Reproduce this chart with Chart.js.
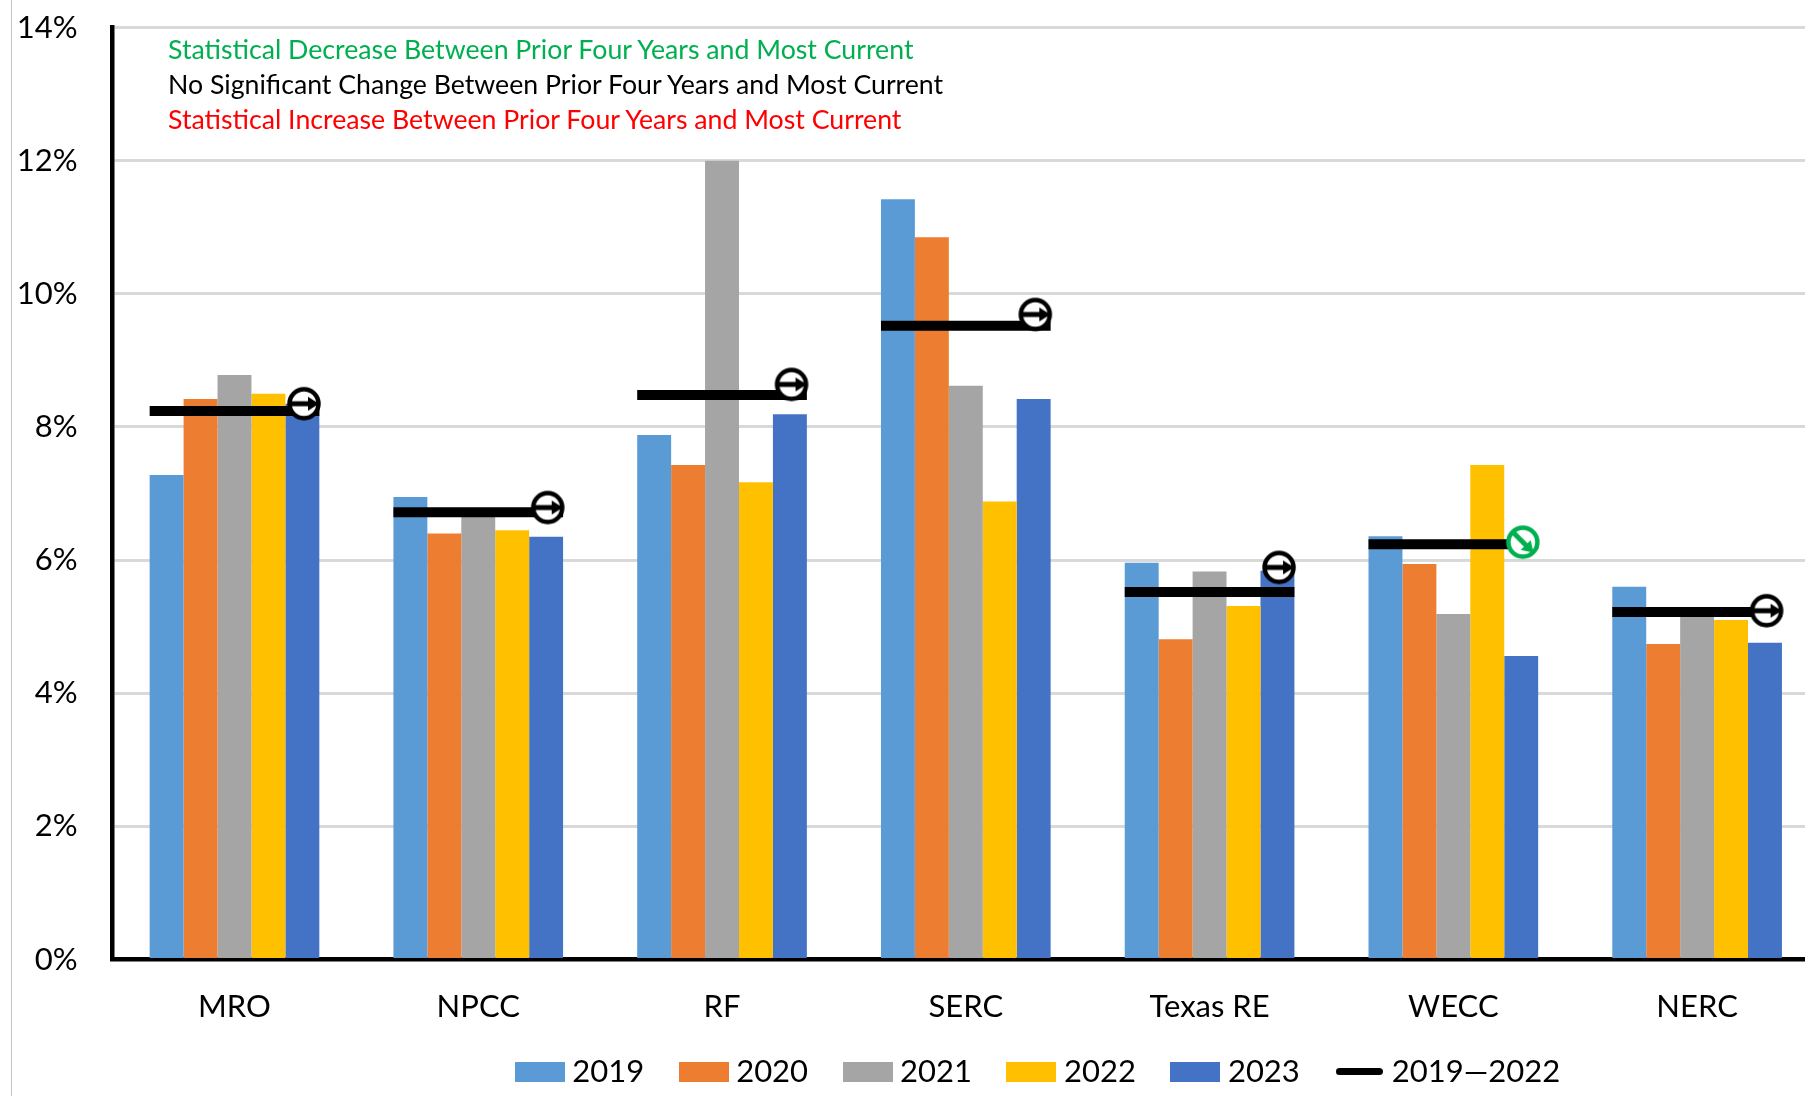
<!DOCTYPE html>
<html>
<head>
<meta charset="utf-8">
<title>Regional chart</title>
<script src="https://cdn.jsdelivr.net/npm/chart.js@4"></script>
<style>
html, body { margin: 0; padding: 0; width: 1805px; height: 1096px; overflow: hidden; background: #fff; }
#wrap { position: relative; width: 1805px; height: 1096px; overflow: hidden; }
#edge { position: absolute; left: 11px; top: 0; width: 1px; height: 1096px; background: #c4c4c4; }
canvas { position: absolute; left: 0; top: -26px; }
.note { position: absolute; left: 168px; font: 26.7px Lato, sans-serif; line-height: 30px; white-space: nowrap; }
</style>
</head>
<body>
<div id="wrap">
  <canvas id="regionChart" width="2086" height="1123"></canvas>
  <div id="edge"></div>
  <div class="note" style="top:34px;color:#00b050">Statistical Decrease Between Prior Four Years and Most Current</div>
  <div class="note" style="top:69px;color:#000">No Significant Change Between Prior Four Years and Most Current</div>
  <div class="note" style="top:104px;color:#ff0000">Statistical Increase Between Prior Four Years and Most Current</div>
</div>
<script>
const regions = ['MRO', 'NPCC', 'RF', 'SERC', 'Texas RE', 'WECC', 'NERC'];
const values2019 = [7.28, 6.95, 7.88, 11.42, 5.96, 6.36, 5.60];
const values2020 = [8.42, 6.40, 7.43, 10.85, 4.81, 5.94, 4.74];
const values2021 = [8.78, 6.70, 12.00, 8.62, 5.83, 5.19, 5.20];
const values2022 = [8.50, 6.45, 7.17, 6.88, 5.31, 7.43, 5.10];
const values2023 = [8.35, 6.35, 8.19, 8.42, 5.84, 4.56, 4.76];
const average = [8.24, 6.72, 8.48, 9.52, 5.52, 6.24, 5.22];
const markerValues = [8.35, 6.79, 8.64, 9.69, 5.89, 6.27, 5.24];
const markerTrends = ['flat', 'flat', 'flat', 'flat', 'flat', 'down', 'flat'];
const yTicks = [0, 2, 4, 6, 8, 10, 12, 14];

const FONT = 'Lato, sans-serif';
const GROUP_HALF = 0.348;  // half of a bar group, in category units
const MARKER_OFFSET = 0.285;

// little ring with an arrow, used as point image
function makeMarker(trend) {
    const c = document.createElement('canvas');
    c.width = 36;
    c.height = 36;
    const g = c.getContext('2d');
    const color = trend === 'down' ? '#00b050' : '#000';
    g.translate(18, 18);
    g.beginPath();
    g.arc(0, 0, 14.5, 0, Math.PI * 2);
    g.fillStyle = '#fff';
    g.fill();
    g.lineWidth = 4.5;
    g.strokeStyle = color;
    g.stroke();
    if (trend === 'down') g.rotate(Math.PI / 4);
    g.fillStyle = color;
    g.fillRect(-14, -2.5, 20, 5);
    g.beginPath();
    g.moveTo(4, -7);
    g.lineTo(15, 0);
    g.lineTo(4, 7);
    g.closePath();
    g.fill();
    return c;
}

function makeSwatch(color, w, h, rounded) {
    const c = document.createElement('canvas');
    c.width = w;
    c.height = h;
    const g = c.getContext('2d');
    g.fillStyle = color;
    g.beginPath();
    g.roundRect(0, 0, w, h, rounded ? h / 2 : 0);
    g.fill();
    return c;
}

const barColors = ['#5b9bd5', '#ed7d31', '#a5a5a5', '#ffc000', '#4472c4'];
const barValues = [values2019, values2020, values2021, values2022, values2023];
const barLabels = ['2019', '2020', '2021', '2022', '2023'];

const datasets = barValues.map(function (vals, i) {
    return {
        type: 'bar',
        label: barLabels[i],
        data: vals,
        backgroundColor: barColors[i],
        categoryPercentage: 0.696,
        barPercentage: 1,
        order: 2
    };
});

// one flat segment per region, broken by null points
const averageLine = [];
average.forEach(function (v, i) {
    averageLine.push({ x: i - GROUP_HALF, y: v });
    averageLine.push({ x: i + GROUP_HALF, y: v });
    averageLine.push({ x: i + 0.5, y: null });
});

// parsing off so the category axis takes fractional positions
datasets.push({
    type: 'line',
    label: '2019\u20142022',
    data: averageLine,
    parsing: false,
    normalized: true,
    borderColor: '#000',
    backgroundColor: '#000',
    borderWidth: 10,
    pointRadius: 0,
    tension: 0,
    spanGaps: false,
    order: 1
});

datasets.push({
    type: 'line',
    label: 'Trend',
    data: markerValues.map(function (v, i) { return { x: i + MARKER_OFFSET, y: v }; }),
    parsing: false,
    normalized: true,
    showLine: false,
    pointStyle: markerTrends.map(makeMarker),
    clip: false,
    order: 0
});

const legendSwatches = barColors.map(function (c) { return makeSwatch(c, 50, 20, false); });
legendSwatches.push(makeSwatch('#000', 47, 7, true));

// x axis box is kept short for the legend, tick labels would get clipped to it.
// legend gets centred on the plot box, the original sits further right
const layoutTweaks = {
    id: 'layoutTweaks',
    afterLayout: function (chart) {
        chart.scales.x.bottom += 30;
        chart.legend.left += 132;
        chart.legend.right += 132;
    }
};

new Chart(document.getElementById('regionChart').getContext('2d'), {
    data: { labels: regions, datasets: datasets },
    plugins: [layoutTweaks],
    options: {
        responsive: false,
        animation: false,
        layout: { autoPadding: false, padding: { top: 1, left: 0, right: 267, bottom: 0 } },
        plugins: {
            tooltip: { enabled: false },
            legend: {
                position: 'bottom',
                labels: {
                    usePointStyle: true,
                    pointStyleWidth: 34,
                    padding: 42.5,
                    color: '#000',
                    font: { family: FONT, size: 31 },
                    filter: function (item) { return item.text !== 'Trend'; },
                    sort: function (a, b) { return a.datasetIndex - b.datasetIndex; },
                    generateLabels: function (chart) {
                        const items = Chart.defaults.plugins.legend.labels.generateLabels(chart);
                        items.forEach(function (item) {
                            if (legendSwatches[item.datasetIndex]) item.pointStyle = legendSwatches[item.datasetIndex];
                        });
                        return items;
                    }
                }
            }
        },
        scales: {
            x: {
                type: 'category',
                afterFit: function (scale) { scale.height = 54; },
                grid: { display: false },
                border: { display: true, color: '#000', width: 4.5 },
                ticks: { color: '#000', font: { family: FONT, size: 31 }, padding: 21, maxRotation: 0 }
            },
            y: {
                min: 0,
                max: 14,
                afterFit: function (scale) { scale.width = 112.6; },
                afterBuildTicks: function (scale) {
                    scale.ticks = yTicks.map(function (v) { return { value: v }; });
                },
                grid: { color: '#d9d9d9', lineWidth: 3, drawTicks: false },
                border: { display: true, color: '#000', width: 4.5 },
                ticks: {
                    color: '#000',
                    font: { family: FONT, size: 31 },
                    padding: 35,
                    callback: function (v) { return v + '%'; }
                }
            }
        }
    }
});
</script>
</body>
</html>
